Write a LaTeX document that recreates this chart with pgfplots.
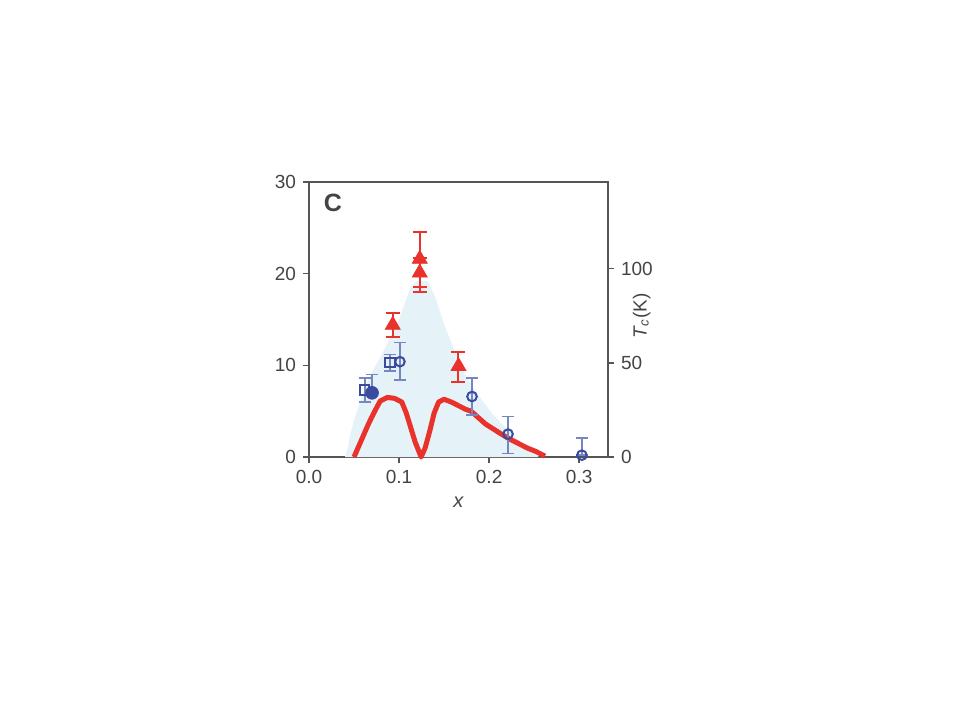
\documentclass[border=0pt]{standalone}
\usepackage{pgfplots}
\pgfplotsset{compat=1.18}
\usepackage{fontspec}
\setmainfont{Liberation Sans}
\definecolor{myred}{HTML}{E8322B}
\definecolor{myblue}{HTML}{3A4A9E}
\definecolor{errblue}{HTML}{7586C0}
\definecolor{shade}{HTML}{E5F3F8}
\definecolor{axgray}{HTML}{555555}
\definecolor{txtgray}{HTML}{444444}
\begin{document}
\begin{tikzpicture}
\begin{axis}[
  name=main,
  width=149.5pt, height=137.5pt, scale only axis,
  xmin=0, xmax=0.332, ymin=0, ymax=30,
  xtick={0,0.1,0.2,0.3}, xticklabels={0.0,0.1,0.2,0.3},
  ytick={0,10,20,30},
  xtick pos=left, ytick pos=left,
  tick align=outside, major tick length=3pt,
  axis line style={axgray, line width=0.8pt},
  every tick/.style={axgray, line width=0.8pt},
  ticklabel style={font=\fontsize{9.5}{11}\selectfont, text=txtgray},
  /pgf/number format/assume math mode=true,
  xlabel={\itshape x}, xlabel style={font=\fontsize{10}{12}\selectfont, text=txtgray, yshift=0pt},
  clip=false,
]
% shaded dome
\addplot[fill=shade, draw=none] coordinates {
 (0.040,0) (0.043,1) (0.046,2.5) (0.050,4) (0.055,5.5) (0.062,7.5) (0.070,9.3)
 (0.080,11.0) (0.090,13.0) (0.100,15.0) (0.107,17.0) (0.113,18.6) (0.120,19.2)
 (0.132,19.2) (0.140,17.5) (0.150,14.5) (0.160,12.0) (0.168,10.0) (0.177,8.4)
 (0.190,6.5) (0.203,4.8) (0.215,3.5) (0.228,2.3) (0.240,1.2) (0.255,0)
} \closedcycle;
% red curve
\addplot[myred, line width=2.5pt, line join=round] coordinates {
 (0.050,0) (0.058,1.8) (0.066,3.6) (0.073,5.0) (0.079,6.1) (0.087,6.5) (0.095,6.4)
 (0.103,6.0) (0.108,4.8) (0.113,3.2) (0.118,1.6) (0.1245,0) (0.129,1.0) (0.134,2.8)
 (0.139,4.8) (0.144,6.0) (0.150,6.3) (0.158,6.0) (0.166,5.6) (0.174,5.2) (0.180,5.0)
 (0.188,4.3) (0.196,3.6) (0.204,3.1) (0.212,2.6) (0.222,2.0) (0.232,1.5) (0.242,1.0)
 (0.252,0.6) (0.262,0.1)
};
% blue open squares
\addplot[only marks, mark=square, mark size=2.3pt, myblue, line width=1pt,
  mark options={fill=white},
  error bars/.cd, y dir=both, y explicit,
  error bar style={errblue, line width=0.8pt},
  error mark options={rotate=90, mark size=3pt, errblue, line width=0.8pt}]
 coordinates {
 (0.062,7.3) +- (0,1.3)
 (0.090,10.3) +- (0,0.9)
};
% blue filled circle
\addplot[only marks, mark=*, mark size=3.2pt, myblue,
  error bars/.cd, y dir=plus, y explicit,
  error bar style={errblue, line width=0.8pt},
  error mark options={rotate=90, mark size=3pt, errblue, line width=0.8pt}]
 coordinates {
 (0.070,7.0) +- (0,2.0)
};
% blue open circles
\addplot[only marks, mark=o, mark size=2.4pt, myblue, line width=1pt,
  mark options={fill=white},
  error bars/.cd, y dir=both, y explicit,
  error bar style={errblue, line width=0.8pt},
  error mark options={rotate=90, mark size=3pt, errblue, line width=0.8pt}]
 coordinates {
 (0.101,10.4) += (0,2.1) -= (0,2.0)
 (0.181,6.6) += (0,2.0) -= (0,2.0)
 (0.221,2.5) += (0,1.9) -= (0,2.1)
 (0.303,0.2) += (0,1.9) -= (0,0)
};
% red triangles
\addplot[only marks, mark=triangle*, mark size=4.3pt, myred,
  error bars/.cd, y dir=both, y explicit,
  error bar style={myred, line width=1pt},
  error mark options={rotate=90, mark size=3.5pt, myred, line width=1pt}]
 coordinates {
 (0.093,14.4) += (0,1.3) -= (0,1.3)
 (0.123,21.6) += (0,2.9) -= (0,3.0)
 (0.123,20.1) += (0,1.6) -= (0,2.1)
 (0.166,9.9) += (0,1.6) -= (0,1.7)
};
\node[font=\bfseries\fontsize{12.5}{14}\selectfont, text=txtgray] at (axis description cs:0.08,0.925) {C};
\coordinate (O) at (axis description cs:0,0);
\end{axis}
\begin{axis}[
  width=149.5pt, height=137.5pt, scale only axis,
  xmin=0, xmax=0.332, ymin=0, ymax=146,
  axis x line=none, axis y line*=right,
  ytick={0,50,100},
  tick align=outside, major tick length=3pt,
  axis line style={axgray, line width=0.8pt, -},
  every tick/.style={axgray, line width=0.8pt},
  ticklabel style={font=\fontsize{9.5}{11}\selectfont, text=txtgray},
  /pgf/number format/assume math mode=true,
  ylabel={\textit{T}\textsubscript{\textit{c}}(K)},
  ylabel style={font=\fontsize{9.5}{11}\selectfont, text=txtgray,
    at={(axis description cs:1.113,0.513)}, anchor=center, rotate=0},
]
\end{axis}
\pgfresetboundingbox
\path[use as bounding box] ([shift={(-154.5pt,-131.5pt)}]O) rectangle ([shift={(325.5pt,228.5pt)}]O);
\end{tikzpicture}
\end{document}
